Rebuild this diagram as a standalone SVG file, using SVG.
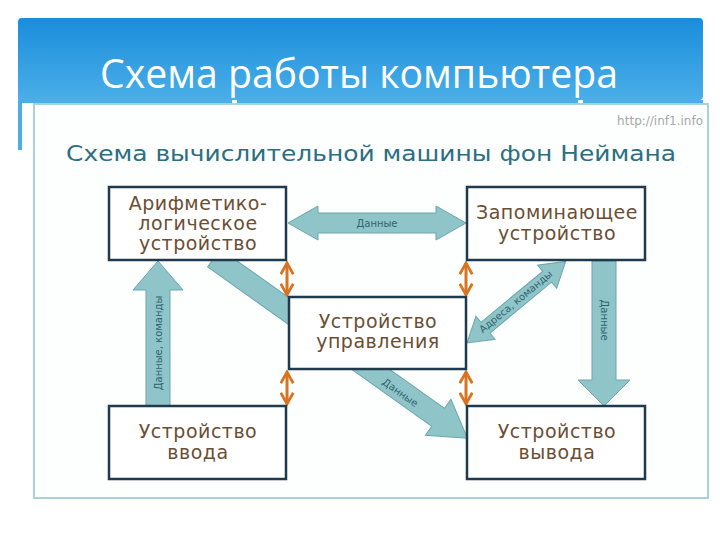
<svg xmlns="http://www.w3.org/2000/svg" width="720" height="540" viewBox="0 0 720 540">
<defs>
<linearGradient id="hdr" x1="0" y1="0" x2="0" y2="1">
<stop offset="0" stop-color="#1a8ddb"/>
<stop offset="1" stop-color="#4aaee8"/>
</linearGradient>
<marker id="oh" viewBox="0 0 12 12" refX="10" refY="6" markerWidth="5" markerHeight="5" orient="auto-start-reverse" markerUnits="strokeWidth">
<path d="M1,1 L10,6 L1,11" fill="none" stroke="#d9731f" stroke-width="2.2"/>
</marker>
<style>
.box{fill:#ffffff;stroke:#1f3a4d;stroke-width:2.5}
.nt{font-family:"DejaVu Sans",Verdana,sans-serif;font-size:19px;letter-spacing:0.5px;fill:#6b4e33;text-anchor:middle}
.ta{fill:#8fc4c9;stroke:#6aa7ae;stroke-width:1}
.al{font-family:"DejaVu Sans",Verdana,sans-serif;font-size:10px;fill:#2f6470;text-anchor:middle;dominant-baseline:middle}
.oa{stroke:#d9731f;stroke-width:3;fill:none;marker-start:url(#oh);marker-end:url(#oh)}
</style>
</defs>
<rect width="720" height="540" fill="#ffffff"/>
<g id="header">
<rect x="18" y="18" width="685" height="82" rx="4" fill="url(#hdr)"/>
<rect x="18" y="96" width="4" height="54" fill="#4aaee8"/>
<rect x="22" y="100" width="210" height="3" fill="#4aaee8"/>
<rect x="237" y="100" width="341" height="3" fill="#4aaee8"/>
<rect x="583" y="100" width="120" height="3" fill="#4aaee8"/>
<text x="359" y="88" font-family="'Open Sans','Noto Sans',sans-serif" font-size="40" fill="#ffffff" text-anchor="middle" textLength="518" lengthAdjust="spacingAndGlyphs">Схема работы компьютера</text>
</g>
<g id="panel">
<rect x="34" y="104" width="674" height="394" fill="#fdfefe" stroke="#a9d2d5" stroke-width="2"/>
<text x="703" y="125" font-family="'DejaVu Sans',sans-serif" font-size="12" fill="#a8a8a8" text-anchor="end">http://inf1.info</text>
<text x="371" y="161" font-family="'DejaVu Sans',Verdana,sans-serif" font-size="21" fill="#2c6f82" text-anchor="middle" textLength="610" lengthAdjust="spacingAndGlyphs">Схема вычислительной машины фон Неймана</text>
</g>
<g id="connectors">
<g id="alu-output">
<polygon class="ta" transform="translate(214,258) rotate(35.4)" points="0,-11 275,-11 275,-22 311,0 275,22 275,11 0,11"/>
<text class="al" transform="translate(400,393) rotate(35.4)">Данные</text>
</g>
<g id="alu-memory">
<polygon class="ta" points="288,223 318,206 318,213 436,213 436,206 466,223 436,240 436,233 318,233 318,240"/>
<text class="al" x="377" y="224">Данные</text>
</g>
<g id="input-alu">
<polygon class="ta" points="158,261 183,290 170,290 170,406 146,406 146,290 133,290"/>
<text class="al" transform="translate(159,343) rotate(-90)">Данные, команды</text>
</g>
<g id="memory-output">
<polygon class="ta" points="592,261 616,261 616,380 630,380 604,406 578,380 592,380"/>
<text class="al" transform="translate(604,320) rotate(90)">Данные</text>
</g>
<g id="control-memory">
<polygon class="ta" transform="translate(467,343) rotate(-39.6)" points="0,0 24,-15 24,-7 104,-7 104,-15 128,0 104,15 104,7 24,7 24,15"/>
<text class="al" transform="translate(516,302) rotate(-39.6)">Адреса, команды</text>
</g>
<line class="oa" x1="287" y1="263" x2="287" y2="295"/>
<line class="oa" x1="466" y1="263" x2="466" y2="295"/>
<line class="oa" x1="287" y1="372" x2="287" y2="404"/>
<line class="oa" x1="466" y1="372" x2="466" y2="404"/>
</g>
<g id="alu">
<rect class="box" x="109" y="187" width="177" height="73"/>
<text class="nt" x="198" y="210">Арифметико-</text>
<text class="nt" x="198" y="230">логическое</text>
<text class="nt" x="198" y="250">устройство</text>
</g>
<g id="memory">
<rect class="box" x="467" y="187" width="178" height="73"/>
<text class="nt" x="557" y="219">Запоминающее</text>
<text class="nt" x="557" y="240">устройство</text>
</g>
<g id="control">
<rect class="box" x="289" y="297" width="177" height="72"/>
<text class="nt" x="378" y="328">Устройство</text>
<text class="nt" x="378" y="348">управления</text>
</g>
<g id="input">
<rect class="box" x="109" y="406" width="177" height="73"/>
<text class="nt" x="198" y="438">Устройство</text>
<text class="nt" x="198" y="459">ввода</text>
</g>
<g id="output">
<rect class="box" x="467" y="406" width="178" height="73"/>
<text class="nt" x="557" y="438">Устройство</text>
<text class="nt" x="557" y="459">вывода</text>
</g>
</svg>
